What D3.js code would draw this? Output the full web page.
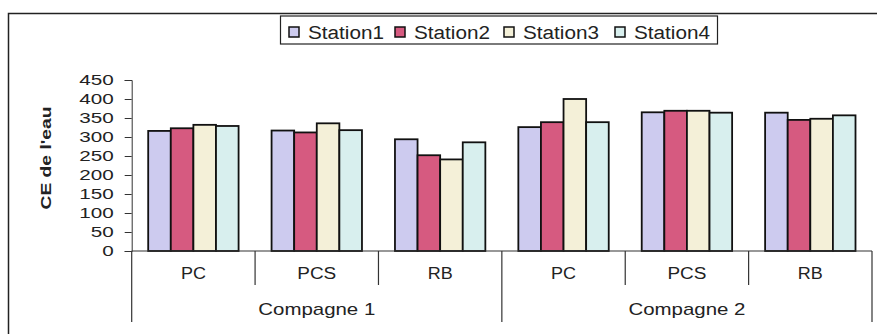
<!DOCTYPE html>
<html><head><meta charset="utf-8">
<script src="https://cdn.jsdelivr.net/npm/d3@7"></script>
<style>
html,body{margin:0;padding:0;background:#fff;}
svg{display:block;font-family:"Liberation Sans",Arial,sans-serif;}
</style></head>
<body>
<svg id="chart" width="877" height="334"></svg>
<script>
// ---- data ----
const campaigns = ["Compagne 1", "Compagne 2"];
const sites = ["PC", "PCS", "RB"];
const stations = ["Station1", "Station2", "Station3", "Station4"];
const station1 = [316, 317, 294, 326, 365, 364];
const station2 = [323, 312, 252, 339, 369, 345];
const station3 = [332, 336, 241, 400, 369, 348];
const station4 = [329, 318, 286, 339, 364, 357];
const yTicks = [0, 50, 100, 150, 200, 250, 300, 350, 400, 450];
const yTitle = "CE de l'eau";
const colors = ["#cdcbef", "#d65a80", "#f4f0d8", "#d8efee"];

const series = [station1, station2, station3, station4];
const cats = [];
campaigns.forEach((c, ci) => sites.forEach((s, si) => cats.push({key: ci + "-" + s, site: s, camp: c, idx: ci * sites.length + si})));

const svg = d3.select("#chart");
const x0 = 131.7, x1 = 872, yBase = 251, yTop = 80;

const x = d3.scaleBand().domain(cats.map(d => d.key)).range([x0, x1]).paddingInner(0).paddingOuter(0);
const xs = d3.scaleBand().domain(stations).range([0, x.bandwidth()]).paddingInner(0).paddingOuter(0.73);
const y = d3.scaleLinear().domain([0, 450]).range([yBase, yTop]);

// outer frame (left & top)
svg.append("path").attr("d", "M8.5,334 V13.5 H877").attr("fill", "none").attr("stroke", "#222").attr("stroke-width", 1.5);

// bars
cats.forEach(c => {
  const g = svg.append("g").attr("transform", `translate(${x(c.key)},0)`);
  stations.forEach((s, si) => {
    const v = series[si][c.idx];
    g.append("rect")
      .attr("x", xs(s)).attr("y", y(v))
      .attr("width", xs.bandwidth()).attr("height", y(0) - y(v))
      .attr("fill", colors[si]).attr("stroke", "#111").attr("stroke-width", 1.8);
  });
});

// y axis
const yAxis = svg.append("g").attr("transform", `translate(${x0},0)`)
  .call(d3.axisLeft(y).tickValues(yTicks).tickSize(7).tickPadding(11));
yAxis.select(".domain").attr("stroke", "#333");
yAxis.selectAll(".tick line").attr("stroke", "#333");
yAxis.selectAll(".tick text")
  .attr("font-size", 15).attr("fill", "#222")
  .style("font-family", "'Liberation Sans',Arial,sans-serif")
  .each(function(d){ const n = String(d).length; d3.select(this).attr("textLength", n * 11.5).attr("lengthAdjust", "spacingAndGlyphs"); });

// x baseline
svg.append("line").attr("x1", x0).attr("x2", x1).attr("y1", yBase).attr("y2", yBase).attr("stroke", "#333").attr("stroke-width", 1.2);

// separators
cats.forEach((c, i) => {
  const bx = x(c.key);
  const isGroup = i % sites.length === 0;
  svg.append("line").attr("x1", bx).attr("x2", bx).attr("y1", yBase).attr("y2", isGroup ? 322 : 285)
    .attr("stroke", "#333").attr("stroke-width", 1.2);
});
svg.append("line").attr("x1", x1).attr("x2", x1).attr("y1", yBase).attr("y2", 322).attr("stroke", "#333").attr("stroke-width", 1.2);

// category labels
cats.forEach(c => {
  svg.append("text").attr("x", x(c.key) + x.bandwidth() / 2).attr("y", 279)
    .attr("text-anchor", "middle").attr("font-size", 16).attr("fill", "#222")
    .attr("textLength", c.site.length === 2 ? 25 : 39).attr("lengthAdjust", "spacingAndGlyphs")
    .text(c.site);
});
campaigns.forEach((c, ci) => {
  const first = x(cats[ci * sites.length].key);
  const last = x(cats[ci * sites.length + sites.length - 1].key) + x.bandwidth();
  svg.append("text").attr("x", (first + last) / 2).attr("y", 315)
    .attr("text-anchor", "middle").attr("font-size", 17).attr("fill", "#222")
    .attr("textLength", 117).attr("lengthAdjust", "spacingAndGlyphs")
    .text(c);
});

// y title
svg.append("text").attr("transform", "translate(51,158) rotate(-90)")
  .attr("text-anchor", "middle").attr("font-size", 15).attr("font-weight", "bold").attr("fill", "#222")
  .attr("textLength", 103).attr("lengthAdjust", "spacingAndGlyphs")
  .text(yTitle);

// legend
svg.append("rect").attr("x", 280.5).attr("y", 16).attr("width", 437).attr("height", 28)
  .attr("fill", "#fff").attr("stroke", "#222").attr("stroke-width", 1.2);
const lx = [289, 395, 504, 615];
stations.forEach((s, i) => {
  svg.append("rect").attr("x", lx[i]).attr("y", 27).attr("width", 10).attr("height", 10)
    .attr("fill", colors[i]).attr("stroke", "#111").attr("stroke-width", 1.5);
  svg.append("text").attr("x", lx[i] + 19).attr("y", 38.5).attr("font-size", 18).attr("fill", "#222")
    .attr("textLength", 76).attr("lengthAdjust", "spacingAndGlyphs").text(s);
});
</script>
</body></html>
